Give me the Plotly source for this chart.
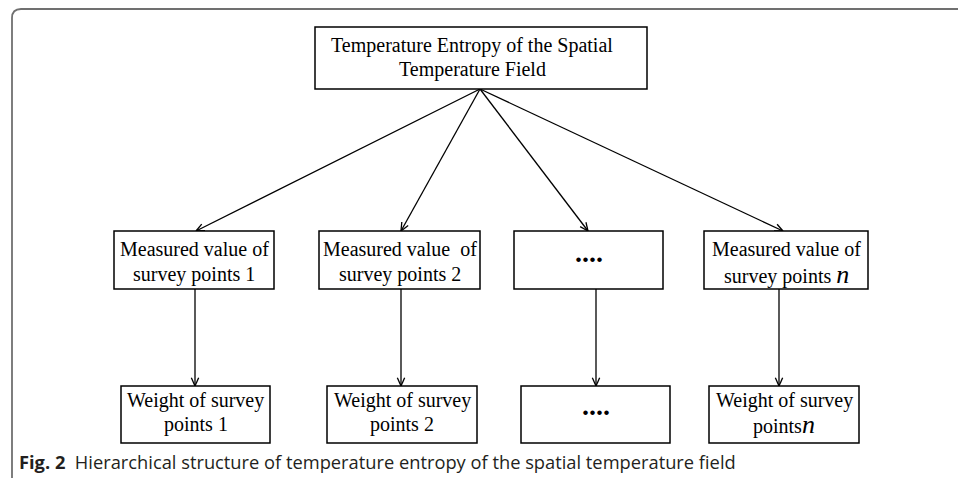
import math
import plotly.graph_objects as go

# ---- content ----
top_lines = ["Temperature Entropy of the Spatial", "Temperature Field"]
mid_labels = [
    ["Measured value of", "survey points 1"],
    ["Measured value&nbsp; of", "survey points 2"],
    ["<b>....</b>"],
    ["Measured value of", "survey points <i><span style='font-size:26px'>n</span></i>"],
]
bot_labels = [
    ["Weight of survey", "points 1"],
    ["Weight of survey", "points 2"],
    ["<b>....</b>"],
    ["Weight of survey", "points<i><span style='font-size:26px'>n</span></i>"],
]
caption = "<b>Fig. 2</b>&nbsp; Hierarchical structure of temperature entropy of the spatial temperature field"

# ---- layout geometry (pixel space) ----
W, H = 958, 478
top_box = (315, 647, 27, 89)
top_text_x = 472
top_text_y = [45, 69]
mid_x0 = [114, 319, 514, 704]
mid_x1 = [274, 480, 663, 868]
mid_y0, mid_y1 = 231, 289
bot_x0 = [121, 327, 521, 709]
bot_x1 = [270, 477, 670, 859]
bot_y0, bot_y1 = 386, 443
apex = (480, 89)
fan_targets = [196, 401, 588, 783]
drop_x = [195, 401, 596, 779]

fig = go.Figure()
shapes = []
annotations = []

def rect(x0, x1, y0, y1):
    shapes.append(dict(type="rect", xref="x", yref="y", x0=x0, x1=x1, y0=y0, y1=y1,
                       line=dict(color="black", width=1.5), fillcolor="white", layer="above"))

def arrow(xa, ya, xb, yb, L=9, ang=24):
    shapes.append(dict(type="line", xref="x", yref="y", x0=xa, y0=ya, x1=xb, y1=yb,
                       line=dict(color="black", width=1.3)))
    th = math.atan2(yb - ya, xb - xa)
    for s in (1, -1):
        a = th + math.pi - s * math.radians(ang)
        shapes.append(dict(type="line", xref="x", yref="y", x0=xb, y0=yb,
                           x1=xb + L * math.cos(a), y1=yb + L * math.sin(a),
                           line=dict(color="black", width=1.3)))

def label(x, y, text, size=20, anchor="center"):
    annotations.append(dict(x=x, y=y, xref="x", yref="y", text=text, showarrow=False,
                            xanchor=anchor, yanchor="middle",
                            font=dict(family="Liberation Serif", size=size, color="black")))

# frame (rounded top-left corner)
shapes.append(dict(type="path", xref="x", yref="y",
                   path="M 12,480 L 12,18 Q 12,9 21,9 L 960,9",
                   line=dict(color="#707070", width=1.8)))

# arrows
for tx in fan_targets:
    arrow(apex[0], apex[1], tx, mid_y0)
for dx in drop_x:
    arrow(dx, mid_y1, dx, bot_y0)

# boxes
rect(*top_box)
for x0, x1 in zip(mid_x0, mid_x1):
    rect(x0, x1, mid_y0, mid_y1)
for x0, x1 in zip(bot_x0, bot_x1):
    rect(x0, x1, bot_y0, bot_y1)

# texts
for t, y in zip(top_lines, top_text_y):
    label(top_text_x, y, t)
for x0, x1, lines in zip(mid_x0, mid_x1, mid_labels):
    cx = (x0 + x1) / 2
    if len(lines) == 1:
        label(cx, 252, lines[0], size=28)
    else:
        label(cx, 249, lines[0])
        label(cx, 274, lines[1])
for x0, x1, lines in zip(bot_x0, bot_x1, bot_labels):
    cx = (x0 + x1) / 2
    if len(lines) == 1:
        label(cx, 405, lines[0], size=28)
    else:
        label(cx, 400, lines[0])
        label(cx, 424, lines[1])

annotations.append(dict(x=17, y=461, xref="x", yref="y", text=caption, showarrow=False,
                        xanchor="left", yanchor="middle",
                        font=dict(family="Open Sans", size=18.3, color="#231f20")))

fig.update_layout(
    width=W, height=H, margin=dict(l=0, r=0, t=0, b=0),
    paper_bgcolor="white", plot_bgcolor="white",
    xaxis=dict(range=[0, W], visible=False, fixedrange=True),
    yaxis=dict(range=[H, 0], visible=False, fixedrange=True),
    shapes=shapes, annotations=annotations, showlegend=False,
)
fig.write_html(
    "out.html",
    config={"displayModeBar": False},
    post_script="document.body.style.margin='0px';document.body.style.overflow='hidden';",
)
